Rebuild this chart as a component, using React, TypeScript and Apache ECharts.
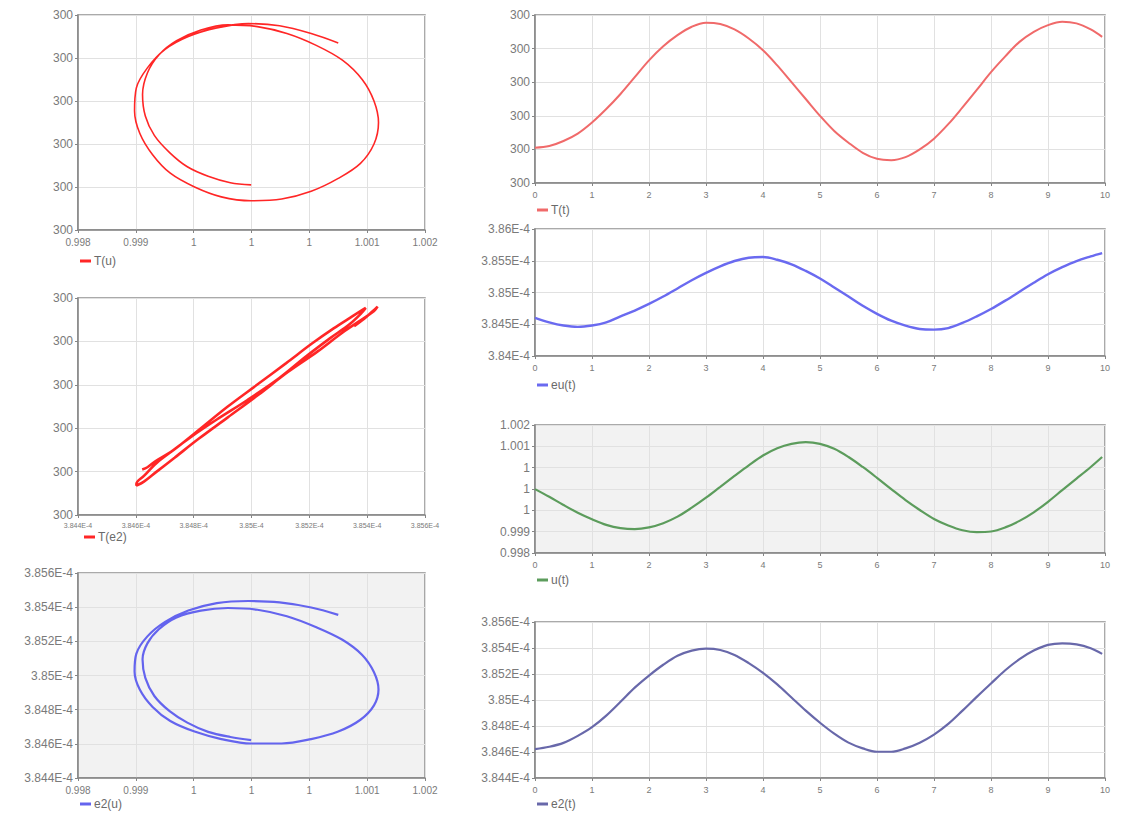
import React, { useEffect, useRef } from 'react';
import * as echarts from 'echarts';

// ---- data (t step 0.25) ----
const tValues = [0, 0.25, 0.5, 0.75, 1, 1.25, 1.5, 1.75, 2, 2.25, 2.5, 2.75, 3, 3.25, 3.5, 3.75, 4, 4.25, 4.5, 4.75, 5, 5.25, 5.5, 5.75, 6, 6.25, 6.5, 6.75, 7, 7.25, 7.5, 7.75, 8, 8.25, 8.5, 8.75, 9, 9.25, 9.5, 9.75, 9.95];
const TValues = [299.981, 299.982, 299.985, 299.9894, 299.996, 300.004, 300.013, 300.023, 300.033, 300.0414, 300.048, 300.053, 300.0554, 300.0546, 300.0514, 300.046, 300.039, 300.03, 300.02, 300.01, 300.0, 299.991, 299.984, 299.978, 299.9744, 299.9736, 299.9754, 299.98, 299.9864, 299.995, 300.005, 300.0154, 300.026, 300.0354, 300.044, 300.05, 300.054, 300.056, 300.055, 300.0514, 300.047];
const uValues = [0.999996, 0.999756, 0.9995, 0.99926, 0.999056, 0.99888, 0.998776, 0.998744, 0.9988, 0.998932, 0.999136, 0.999416, 0.999728, 1.000068, 1.000408, 1.00074, 1.001048, 1.001276, 1.001412, 1.001464, 1.001412, 1.001256, 1.001, 1.000688, 1.000348, 0.999996, 0.999652, 0.999344, 0.999064, 0.99886, 0.998712, 0.998652, 0.998672, 0.9988, 0.999004, 0.999272, 0.9996, 0.999964, 1.000324, 1.000688, 1.001];
const euValues = [3.846e-4, 3.8453e-4, 3.8448e-4, 3.84458e-4, 3.8448e-4, 3.8453e-4, 3.84624e-4, 3.84716e-4, 3.8482e-4, 3.84936e-4, 3.85064e-4, 3.85194e-4, 3.8531e-4, 3.85412e-4, 3.85496e-4, 3.85548e-4, 3.85558e-4, 3.85516e-4, 3.85444e-4, 3.8534e-4, 3.8522e-4, 3.8508e-4, 3.84936e-4, 3.8479e-4, 3.84664e-4, 3.84556e-4, 3.84478e-4, 3.84426e-4, 3.84416e-4, 3.8444e-4, 3.8452e-4, 3.84624e-4, 3.8474e-4, 3.84872e-4, 3.85012e-4, 3.85154e-4, 3.85288e-4, 3.854e-4, 3.85496e-4, 3.85568e-4, 3.8562e-4];
const e2Values = [3.84622e-4, 3.8464e-4, 3.8467e-4, 3.84724e-4, 3.84791e-4, 3.8488e-4, 3.84986e-4, 3.85095e-4, 3.85188e-4, 3.85271e-4, 3.8534e-4, 3.8538e-4, 3.85395e-4, 3.85385e-4, 3.85347e-4, 3.85284e-4, 3.85209e-4, 3.8512e-4, 3.85019e-4, 3.84918e-4, 3.84825e-4, 3.84741e-4, 3.84672e-4, 3.84628e-4, 3.84602e-4, 3.84602e-4, 3.84628e-4, 3.84672e-4, 3.84734e-4, 3.84816e-4, 3.84918e-4, 3.85024e-4, 3.85127e-4, 3.85229e-4, 3.85314e-4, 3.8538e-4, 3.85424e-4, 3.85436e-4, 3.85428e-4, 3.85398e-4, 3.85355e-4];

// ---- tick labels ----
const timeTickLabels = ['0', '1', '2', '3', '4', '5', '6', '7', '8', '9', '10'];
const TTickLabels = ['300', '300', '300', '300', '300', '300'];
const uTickLabels = ['0.998', '0.999', '1', '1', '1', '1.001', '1.002'];
const e2TickLabels = ['3.844E-4', '3.846E-4', '3.848E-4', '3.85E-4', '3.852E-4', '3.854E-4', '3.856E-4'];
const euTickLabels = ['3.84E-4', '3.845E-4', '3.85E-4', '3.855E-4', '3.86E-4'];

type AxisSpec = { min: number; max: number; step: number; labels: string[] };
const timeAxis: AxisSpec = { min: 0, max: 10, step: 1, labels: timeTickLabels };
const TAxis: AxisSpec = { min: 299.96, max: 300.06, step: 0.02, labels: TTickLabels };
const uAxis: AxisSpec = { min: 0.998, max: 1.002, step: 0.004 / 6, labels: uTickLabels };
const e2Axis: AxisSpec = { min: 3.844e-4, max: 3.856e-4, step: 2e-7, labels: e2TickLabels };
const euAxis: AxisSpec = { min: 3.84e-4, max: 3.86e-4, step: 5e-7, labels: euTickLabels };

const FONT = 'Liberation Sans, Arial, sans-serif';

function makeAxis(gridIndex: number, spec: AxisSpec, isX: boolean, fontSize: number) {
  return {
    type: 'value',
    gridIndex,
    min: spec.min,
    max: spec.max,
    interval: spec.step,
    axisLine: { show: true, onZero: false, lineStyle: { color: '#858585', width: 1.5 } },
    axisTick: { show: true, length: 3, lineStyle: { color: '#858585' } },
    splitLine: { show: true, lineStyle: { color: '#e1e1e1', width: 1 } },
    axisLabel: {
      color: '#7a7a7a',
      fontSize,
      fontFamily: FONT,
      margin: isX ? 7 : 5,
      hideOverlap: false,
      formatter: (v: number) => spec.labels[Math.round((v - spec.min) / spec.step)] ?? '',
    },
  };
}

const pairs = (xs: number[], ys: number[]) => xs.map((x, i) => [x, ys[i]]);

export default function App() {
  const ref = useRef<HTMLDivElement>(null);
  useEffect(() => {
    if (!ref.current) return;
    const chart = echarts.init(ref.current, undefined, { renderer: 'svg' });
    const panels = [
      { name: 'T(u)', x: uAxis, y: TAxis, data: pairs(uValues, TValues), color: '#ff2626', width: 1.6, rect: [78, 15, 347, 215], bg: '#ffffff', xFont: 10, legend: [80, 255] },
      { name: 'T(e2)', x: e2Axis, y: TAxis, data: pairs(e2Values, TValues), color: '#ff2626', width: 2.6, rect: [78, 298, 347, 217], bg: '#ffffff', xFont: 7, legend: [84, 531] },
      { name: 'e2(u)', x: uAxis, y: e2Axis, data: pairs(uValues, e2Values), color: '#6464ee', width: 2.2, rect: [78, 573, 347, 205], bg: '#f2f2f2', xFont: 10, legend: [80, 798] },
      { name: 'T(t)', x: timeAxis, y: TAxis, data: pairs(tValues, TValues), color: '#f06a6a', width: 2, rect: [535, 15, 570, 168], bg: '#ffffff', xFont: 9, legend: [537, 204] },
      { name: 'eu(t)', x: timeAxis, y: euAxis, data: pairs(tValues, euValues), color: '#6a6af0', width: 2.4, rect: [535, 229, 570, 127], bg: '#ffffff', xFont: 9, legend: [537, 379] },
      { name: 'u(t)', x: timeAxis, y: uAxis, data: pairs(tValues, uValues), color: '#5c9c5c', width: 2.2, rect: [535, 425, 570, 128], bg: '#f2f2f2', xFont: 9, legend: [537, 574] },
      { name: 'e2(t)', x: timeAxis, y: e2Axis, data: pairs(tValues, e2Values), color: '#6868aa', width: 2.2, rect: [535, 622, 570, 156], bg: '#ffffff', xFont: 9, legend: [537, 798] },
    ];
    const option: any = {
      animation: false,
      backgroundColor: '#ffffff',
      grid: panels.map((p) => ({
        left: p.rect[0], top: p.rect[1], width: p.rect[2], height: p.rect[3],
        show: true, backgroundColor: p.bg, borderColor: '#8e8e8e', borderWidth: 1.5,
      })),
      xAxis: panels.map((p, i) => makeAxis(i, p.x, true, p.xFont)),
      yAxis: panels.map((p, i) => makeAxis(i, p.y, false, 12)),
      legend: panels.map((p) => ({
        data: [p.name], left: p.legend[0], top: p.legend[1], icon: 'rect', itemWidth: 11, itemHeight: 3,
        itemGap: 4, padding: 0, selectedMode: false,
        textStyle: { color: '#6a6a6a', fontSize: 12, fontFamily: FONT, padding: [0, 0, 0, -2] },
      })),
      series: panels.map((p, i) => ({
        name: p.name, type: 'line', xAxisIndex: i, yAxisIndex: i, data: p.data,
        showSymbol: false, smooth: 0.35, clip: false,
        lineStyle: { color: p.color, width: p.width }, itemStyle: { color: p.color },
      })),
    };
    chart.setOption(option);
    return () => chart.dispose();
  }, []);
  return <div ref={ref} style={{ position: 'absolute', left: 0, top: 0, width: 1121, height: 817 }} />;
}
